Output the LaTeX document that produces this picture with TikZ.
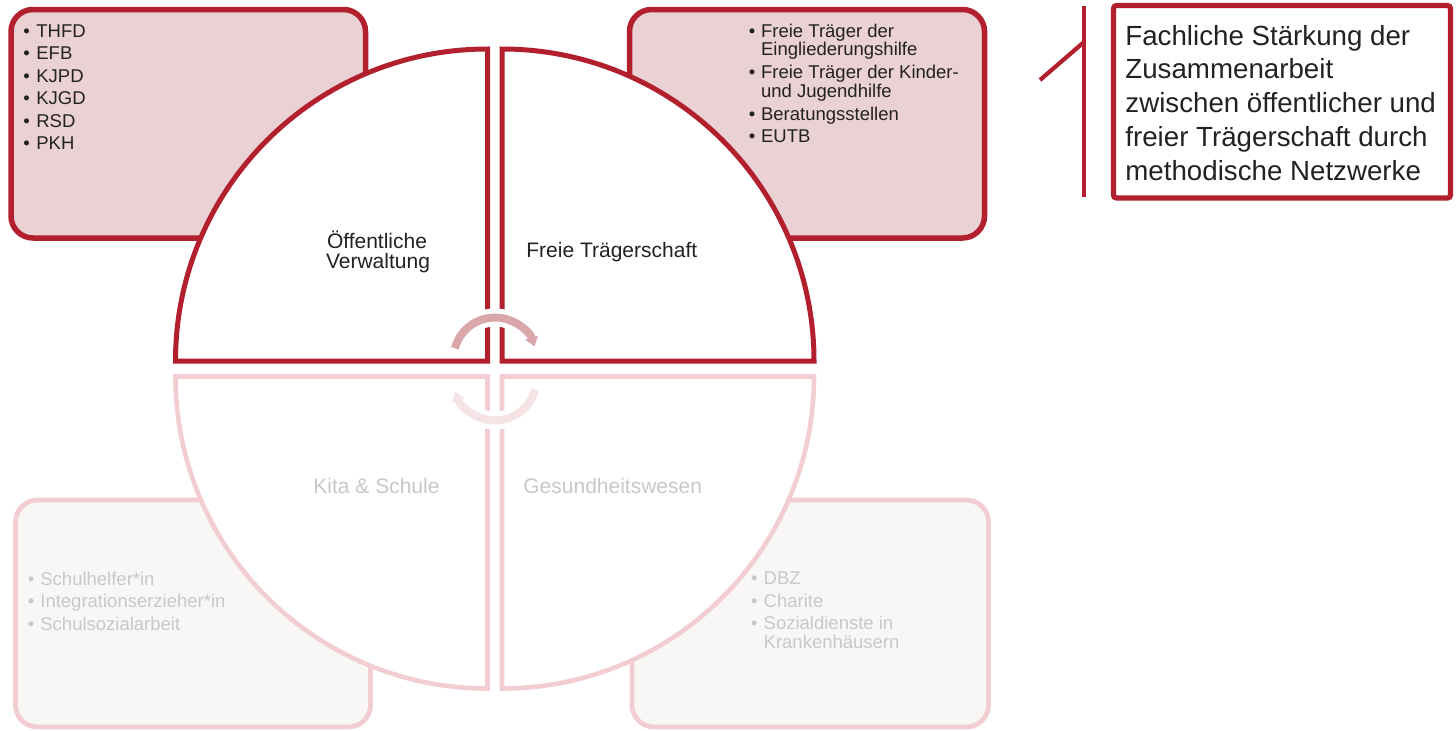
\documentclass[tikz,border=0pt]{standalone}
\usepackage{fontspec}
\setmainfont{Liberation Sans}
\usetikzlibrary{arrows.meta}
\definecolor{dred}{HTML}{B21F2D}
\definecolor{tfill}{HTML}{EAD1D3}
\definecolor{tarrow}{HTML}{D9A7AA}
\definecolor{lborder}{HTML}{F2CDD1}
\definecolor{lfill}{HTML}{F8F7F6}
\definecolor{ltext}{HTML}{C8C8C8}
\definecolor{larrow}{HTML}{F5E3E5}
\definecolor{dtext}{HTML}{222222}
\newcommand\bl[1]{\makebox[#1][l]{•}}
\begin{document}
\begin{tikzpicture}[x=0.5pt,y=-0.5pt,
  topbox/.style={draw=dred, fill=tfill, line width=2.75pt, rounded corners=11pt},
  lowbox/.style={draw=lborder, fill=lfill, line width=2.4pt, rounded corners=11pt},
  topq/.style={draw=dred, fill=white, line width=2.5pt},
  lowq/.style={draw=lborder, fill=white, line width=2.3pt},
  itm/.style={anchor=base west, inner sep=0pt, font=\fontsize{9.25}{11}\selectfont, text=dtext},
  litm/.style={itm, text=ltext},
  qlabel/.style={inner sep=0pt, font=\fontsize{10.5}{12}\selectfont, text=dtext},
  goaltext/.style={anchor=base west, inner sep=0pt, font=\fontsize{13.85}{16}\selectfont, text=dtext},
  halo/.style={draw=white, line width=9pt},
  cyclearrow/.style={line width=4pt, -{Triangle[width=6.5pt,length=4.5pt]}},
]
\useasboundingbox (0,0) rectangle (1456,730);

% boxes
\draw[topbox] (11,9.5) rectangle (365.5,238);
\draw[topbox] (629.5,9.5) rectangle (984.5,238);
\draw[lowbox] (15.5,500) rectangle (370.5,727);
\draw[lowbox] (632,500) rectangle (988.5,727);

% quadrants
\draw[topq] (487.5,361) -- (175.5,361) arc[start angle=180, end angle=270, radius=312] -- cycle;
\draw[topq] (502,361) -- (502,49) arc[start angle=270, end angle=360, radius=312] -- cycle;
\draw[lowq] (487.5,376.5) -- (175.5,376.5) arc[start angle=180, end angle=90, radius=312] -- cycle;
\draw[lowq] (502,376.5) -- (814,376.5) arc[start angle=0, end angle=90, radius=312] -- cycle;

% cycle arrows
\coordinate (ca) at (495,359);
\coordinate (cb) at (495,379);
\draw[halo] (ca) ++(235:41.5) arc[start angle=235, end angle=305, radius=41.5];
\draw[cyclearrow, draw=tarrow] (ca) ++(195:41.5) arc[start angle=195, end angle=342, radius=41.5];
\draw[halo] (cb) ++(55:41.5) arc[start angle=55, end angle=125, radius=41.5];
\draw[cyclearrow, draw=larrow] (cb) ++(15:41.5) arc[start angle=15, end angle=162, radius=41.5];

% top-left items
\node[itm] (tl1) at (23,37) {\bl{6.5pt}THFD};
\node[itm] (tl2) at (23,59.5) {\bl{6.5pt}EFB};
\node[itm] (tl3) at (23,82) {\bl{6.5pt}KJPD};
\node[itm] (tl4) at (23,104.5) {\bl{6.5pt}KJGD};
\node[itm] (tl5) at (23,127) {\bl{6.5pt}RSD};
\node[itm] (tl6) at (23,149.5) {\bl{6.5pt}PKH};

% top-right items
\node[itm] (tr1) at (748.5,37) {\bl{6.1pt}Freie Träger der};
\node[itm] (tr1b) at (760.7,55.5) {Eingliederungshilfe};
\node[itm] (tr2) at (748.5,78) {\bl{6.1pt}Freie Träger der Kinder-};
\node[itm] (tr2b) at (760.7,97) {und Jugendhilfe};
\node[itm] (tr3) at (748.5,120) {\bl{6.1pt}Beratungsstellen};
\node[itm] (tr4) at (748.5,142.5) {\bl{6.1pt}EUTB};

% bottom-left items
\node[litm] (bl1) at (27.5,585) {\bl{6.25pt}Schulhelfer*in};
\node[litm] (bl2) at (27.5,607.5) {\bl{6.25pt}Integrationserzieher*in};
\node[litm] (bl3) at (27.5,630) {\bl{6.25pt}Schulsozialarbeit};

% bottom-right items
\node[litm] (br1) at (750.8,584) {\bl{6.25pt}DBZ};
\node[litm] (br2) at (750.8,607) {\bl{6.25pt}Charite};
\node[litm] (br3) at (750.8,629.3) {\bl{6.25pt}Sozialdienste in};
\node[litm] (br3b) at (763.3,648.3) {Krankenhäusern};

% quadrant labels
\node[qlabel, anchor=base] (q1a) at (377,248) {Öffentliche};
\node[qlabel, anchor=base] (q1b) at (378,268) {Verwaltung};
\node[qlabel, anchor=base west] (q2) at (526,257) {Freie Trägerschaft};
\node[qlabel, anchor=base west, text=ltext] (q3) at (313,493) {Kita \& Schule};
\node[qlabel, anchor=base west, text=ltext] (q4) at (523,493) {Gesundheitswesen};

% goal box
\draw[draw=dred, line width=2.6pt, rounded corners=1.5pt] (1113.5,5.5) rectangle (1450.5,198);
\node[goaltext] (g1) at (1125,45) {Fachliche Stärkung der};
\node[goaltext] (g2) at (1125,78.5) {Zusammenarbeit};
\node[goaltext] (g3) at (1125,112) {zwischen öffentlicher und};
\node[goaltext] (g4) at (1125,146.3) {freier Trägerschaft durch};
\node[goaltext] (g5) at (1125,180) {methodische Netzwerke};

% bracket
\coordinate (vt) at (1084,6);
\coordinate (vb) at (1084,197);
\coordinate (dj) at (1084,42);
\coordinate (de) at (1040,80);
\draw[dred, line width=2.1pt] (vt) -- (vb);
\draw[dred, line width=2.1pt] (de) -- (dj);
\end{tikzpicture}
\end{document}
